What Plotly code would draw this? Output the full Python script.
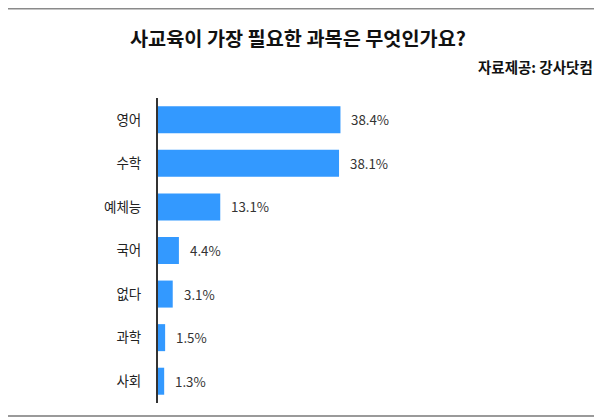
import plotly.graph_objects as go

categories = ["영어", "수학", "예체능", "국어", "없다", "과학", "사회"]
values = [38.4, 38.1, 13.1, 4.4, 3.1, 1.5, 1.3]
labels = ["38.4%", "38.1%", "13.1%", "4.4%", "3.1%", "1.5%", "1.3%"]

# page body adds an 8px offset; work in window pixels and subtract it
OFF = 8
W, H = 602 - OFF, 420 - OFF
ML, MR, MT, MB = 158 - OFF, 4, 98 - OFF, 17
pw, ph = W - ML - MR, H - MT - MB

def px_x(x):
    return (x - OFF - ML) / pw

def px_y(y):
    return (H - MB - (y - OFF)) / ph

FONT = "Noto Sans CJK KR"

fig = go.Figure(go.Bar(
    y=categories, x=values, orientation="h",
    marker=dict(color="#3399ff", line=dict(width=0)),
    hoverinfo="skip",
))

for c, v, t in zip(categories, values, labels):
    fig.add_annotation(x=v, y=c, text=t, showarrow=False, xanchor="left",
                       xshift=9, font=dict(family=FONT, size=13.3, color="#333333"))

fig.add_annotation(xref="paper", yref="paper", x=px_x(298), y=px_y(37),
                   text="<b>사교육이 가장 필요한 과목은 무엇인가요?</b>", showarrow=False,
                   xanchor="center", yanchor="middle",
                   font=dict(family=FONT, size=19.7, color="#111111"))
fig.add_annotation(xref="paper", yref="paper", x=px_x(595), y=px_y(66.5),
                   text="<b>자료제공: 강사닷컴</b>", showarrow=False,
                   xanchor="right", yanchor="middle",
                   font=dict(family=FONT, size=14.5, color="#111111"))

fig.add_shape(type="line", xref="paper", yref="paper",
              x0=px_x(0), x1=px_x(602), y0=px_y(8.7), y1=px_y(8.7),
              line=dict(color="#8a8a8a", width=1.5))
fig.add_shape(type="line", xref="paper", yref="paper",
              x0=px_x(0), x1=px_x(602), y0=px_y(416), y1=px_y(416),
              line=dict(color="#9a9a9a", width=2))

fig.update_layout(
    width=W, height=H,
    margin=dict(l=ML, r=MR, t=MT, b=MB),
    paper_bgcolor="white", plot_bgcolor="white",
    bargap=0.38, showlegend=False,
    xaxis=dict(range=[0, 92.6], visible=False, fixedrange=True),
    yaxis=dict(categoryorder="array", categoryarray=categories[::-1],
               showline=True, linecolor="#333333", linewidth=2,
               showgrid=False, ticks="", ticklabelstandoff=12,
               tickfont=dict(family=FONT, size=13.5, color="#222222")),
)

fig.write_html("out.html")
